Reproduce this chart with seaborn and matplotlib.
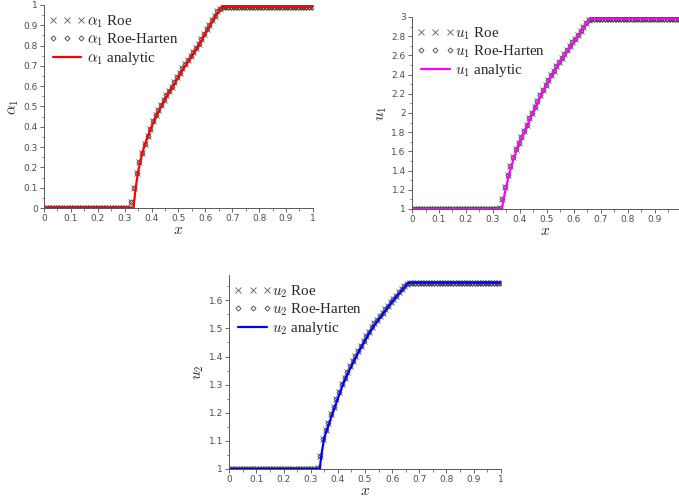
import matplotlib
matplotlib.use('Agg')
import matplotlib.pyplot as plt
import seaborn as sns
import numpy as np
from matplotlib.ticker import MultipleLocator
from matplotlib.lines import Line2D
from matplotlib.legend_handler import HandlerLine2D

sns.set_theme(style='ticks')
plt.rcParams['font.family'] = ['DejaVu Sans']
plt.rcParams['mathtext.fontset'] = 'cm'

# cell centres of the 100-cell mesh
x_cells = np.arange(100) * 0.01 + 0.005

# numerical solutions (Roe and Roe-Harten overlap in the picture)
alpha1_fan = [0.03, 0.10, 0.17, 0.225, 0.27, 0.315, 0.355, 0.39, 0.427, 0.457,
              0.483, 0.508, 0.533, 0.558, 0.578, 0.598, 0.62, 0.643, 0.665, 0.688,
              0.708, 0.728, 0.748, 0.768, 0.788, 0.808, 0.833, 0.858, 0.88, 0.903,
              0.925, 0.948, 0.968, 0.982, 0.99]
u1_fan = [1.01, 1.10, 1.23, 1.35, 1.45, 1.54, 1.62, 1.69, 1.754, 1.814,
          1.879, 1.943, 2.004, 2.064, 2.124, 2.184, 2.24, 2.294, 2.345, 2.395,
          2.44, 2.486, 2.528, 2.571, 2.613, 2.656, 2.696, 2.736, 2.776, 2.816,
          2.856, 2.896, 2.936, 2.968, 2.98]
u2_fan = [1.005, 1.045, 1.106, 1.137, 1.165, 1.194, 1.221, 1.248, 1.275, 1.302,
          1.323, 1.345, 1.365, 1.384, 1.403, 1.421, 1.438, 1.455, 1.472, 1.489,
          1.504, 1.518, 1.530, 1.543, 1.556, 1.569, 1.581, 1.594, 1.605, 1.617,
          1.628, 1.639, 1.65, 1.659, 1.663]

alpha1_roe = [0.0] * 32 + alpha1_fan + [0.99] * 33
u1_roe = [1.0] * 32 + u1_fan + [2.98] * 33
u2_roe = [1.0] * 32 + u2_fan + [1.663] * 33
alpha1_rh = list(alpha1_roe)
u1_rh = list(u1_roe)
u2_rh = list(u2_roe)

# analytic solution
x_exact = [0, 0.333, 0.34, 0.35, 0.36, 0.37, 0.38, 0.40, 0.42, 0.44, 0.46,
           0.48, 0.50, 0.52, 0.54, 0.56, 0.58, 0.60, 0.62, 0.64, 0.66, 1.0]
alpha1_exact = [0, 0, 0.09, 0.18, 0.24, 0.29, 0.33, 0.40, 0.46, 0.51, 0.56,
                0.60, 0.645, 0.69, 0.73, 0.77, 0.81, 0.86, 0.905, 0.95, 0.99, 0.99]
u1_exact = [1, 1, 1.11, 1.24, 1.36, 1.46, 1.55, 1.70, 1.82, 1.95, 2.07,
            2.19, 2.30, 2.40, 2.49, 2.575, 2.66, 2.74, 2.82, 2.90, 2.98, 2.98]
u2_exact = [1, 1, 1.054, 1.112, 1.14, 1.168, 1.197, 1.251, 1.304, 1.347, 1.386,
            1.423, 1.457, 1.491, 1.519, 1.544, 1.57, 1.595, 1.618, 1.64, 1.663, 1.663]

fig = plt.figure(figsize=(6.79, 5.0), dpi=100)

panels = [
    # name, roe, rh, exact, colour, rect, xlim, ylim, ymajor
    (r'\alpha_1', alpha1_roe, alpha1_rh, alpha1_exact, '#ff0000',
     [0.0648, 0.584, 0.396, 0.406], (0, 1), (0, 1), 0.1),
    (r'u_1', u1_roe, u1_rh, u1_exact, '#ff00ff',
     [0.6068, 0.582, 0.3932, 0.384], (0, 0.99), (1, 3), 0.2),
    (r'u_2', u2_roe, u2_rh, u2_exact, '#0000ff',
     [0.3377, 0.062, 0.3997, 0.388], (0, 1), (1, 1.69), 0.1),
]

for name, roe, rh, exact, col, rect, xl, yl, ymaj in panels:
    ax = fig.add_axes(rect)
    sns.lineplot(x=x_cells, y=roe, ax=ax, marker='x', linestyle='', color='0.35',
                 markersize=4, markeredgewidth=0.6, markeredgecolor='0.35',
                 label=rf'${name}$ Roe')
    sns.lineplot(x=x_cells, y=rh, ax=ax, marker='D', linestyle='', color='0.25',
                 markersize=2.6, markerfacecolor='none', markeredgecolor='0.25',
                 markeredgewidth=0.6, label=rf'${name}$ Roe-Harten')
    sns.lineplot(x=x_exact, y=exact, ax=ax, color=col, linewidth=1.6,
                 label=rf'${name}$ analytic')
    ax.set_xlim(*xl)
    ax.set_ylim(*yl)
    ax.xaxis.set_major_locator(MultipleLocator(0.1))
    ax.xaxis.set_minor_locator(MultipleLocator(0.05))
    ax.yaxis.set_major_locator(MultipleLocator(ymaj))
    ax.yaxis.set_minor_locator(MultipleLocator(ymaj / 2))
    ax.xaxis.set_major_formatter(plt.FuncFormatter(lambda v, p: f'{v:g}'))
    ax.yaxis.set_major_formatter(plt.FuncFormatter(lambda v, p: f'{v:g}'))
    ax.tick_params(which='major', length=3, width=0.6, labelsize=6.5,
                   colors='0.3', pad=1.5)
    ax.tick_params(which='minor', length=1.8, width=0.5, colors='0.3')
    for sp in ['left', 'bottom']:
        ax.spines[sp].set_color('0.35')
        ax.spines[sp].set_linewidth(0.7)
    sns.despine(ax=ax)
    ax.set_xlabel(r'$x$', fontsize=11, labelpad=-1)
    ax.set_ylabel(rf'${name}$', fontsize=11, labelpad=2)
    ax.legend(loc='upper left', bbox_to_anchor=(0.0, 1.0), frameon=False,
              numpoints=3, handlelength=2.0, handletextpad=0.3,
              labelspacing=0.12, borderaxespad=0.1, borderpad=0.45,
              handler_map={Line2D: HandlerLine2D(marker_pad=0.05)},
              prop={'family': 'Liberation Serif', 'size': 10.8})

fig.savefig('out.png', dpi=100)
